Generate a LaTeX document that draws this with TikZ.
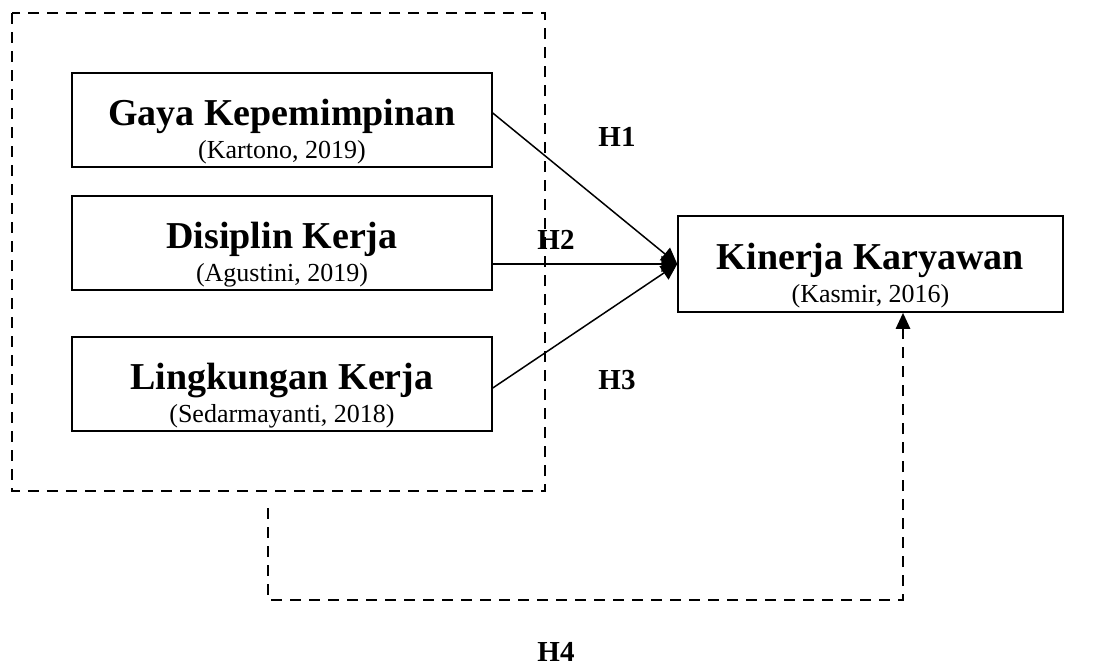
\documentclass[tikz,border=0pt]{standalone}
\usepackage{fontspec}
\setmainfont{Liberation Serif}
\usetikzlibrary{arrows.meta}
\begin{document}
\begin{tikzpicture}[x=0.5pt,y=-0.5pt,
  varbox/.style={draw,line width=0.75pt,minimum width=210pt,minimum height=47pt,align=center,inner sep=0pt},
  resbox/.style={draw,line width=0.75pt,minimum width=192.5pt,minimum height=48pt,align=center,inner sep=0pt},
  hlab/.style={font=\fontsize{14.5}{16}\selectfont\bfseries},
  dsh/.style={line width=1.3pt,dash pattern=on 5.5pt off 4pt},
  conn/.style={line width=0.75pt,-{Triangle[length=8pt,width=8pt]}}]
\useasboundingbox (0,0) rectangle (1099,665);
\def\ttl#1{\rule{0pt}{25pt}{\fontsize{19}{22}\selectfont\bfseries #1}}
\def\sub#1{\\[2.5pt]{\fontsize{13}{15}\selectfont #1}}
\node[varbox] (b1) at (282,120) {\ttl{Gaya Kepemimpinan}\sub{(Kartono, 2019)}};
\node[varbox] (b2) at (282,243) {\ttl{Disiplin Kerja}\sub{(Agustini, 2019)}};
\node[varbox] (b3) at (282,384) {\ttl{Lingkungan Kerja}\sub{(Sedarmayanti, 2018)}};
\node[resbox] (k) at (870.5,264) {\ttl{Kinerja Karyawan}\sub{(Kasmir, 2016)}};
\draw[conn] ([yshift=3.5pt]b1.east) -- (k.west);
\draw[conn] (b2.east |- k.west) -- (k.west);
\draw[conn] ([yshift=-2pt]b3.east) -- (k.west);
\draw[dsh] (12,13) rectangle (545,491);
\coordinate (c1) at (268,508);
\coordinate (c2) at (903,600);
\draw[dsh,-{Triangle[length=8pt,width=7pt]}] (c1) |- (c2) -- (k.south -| c2);
\node[hlab] (h1) at (617,137) {H1};
\node[hlab] (h2) at (556,240) {H2};
\node[hlab] (h3) at (617,380) {H3};
\node[hlab] (h4) at (556,652) {H4};
\end{tikzpicture}
\end{document}
